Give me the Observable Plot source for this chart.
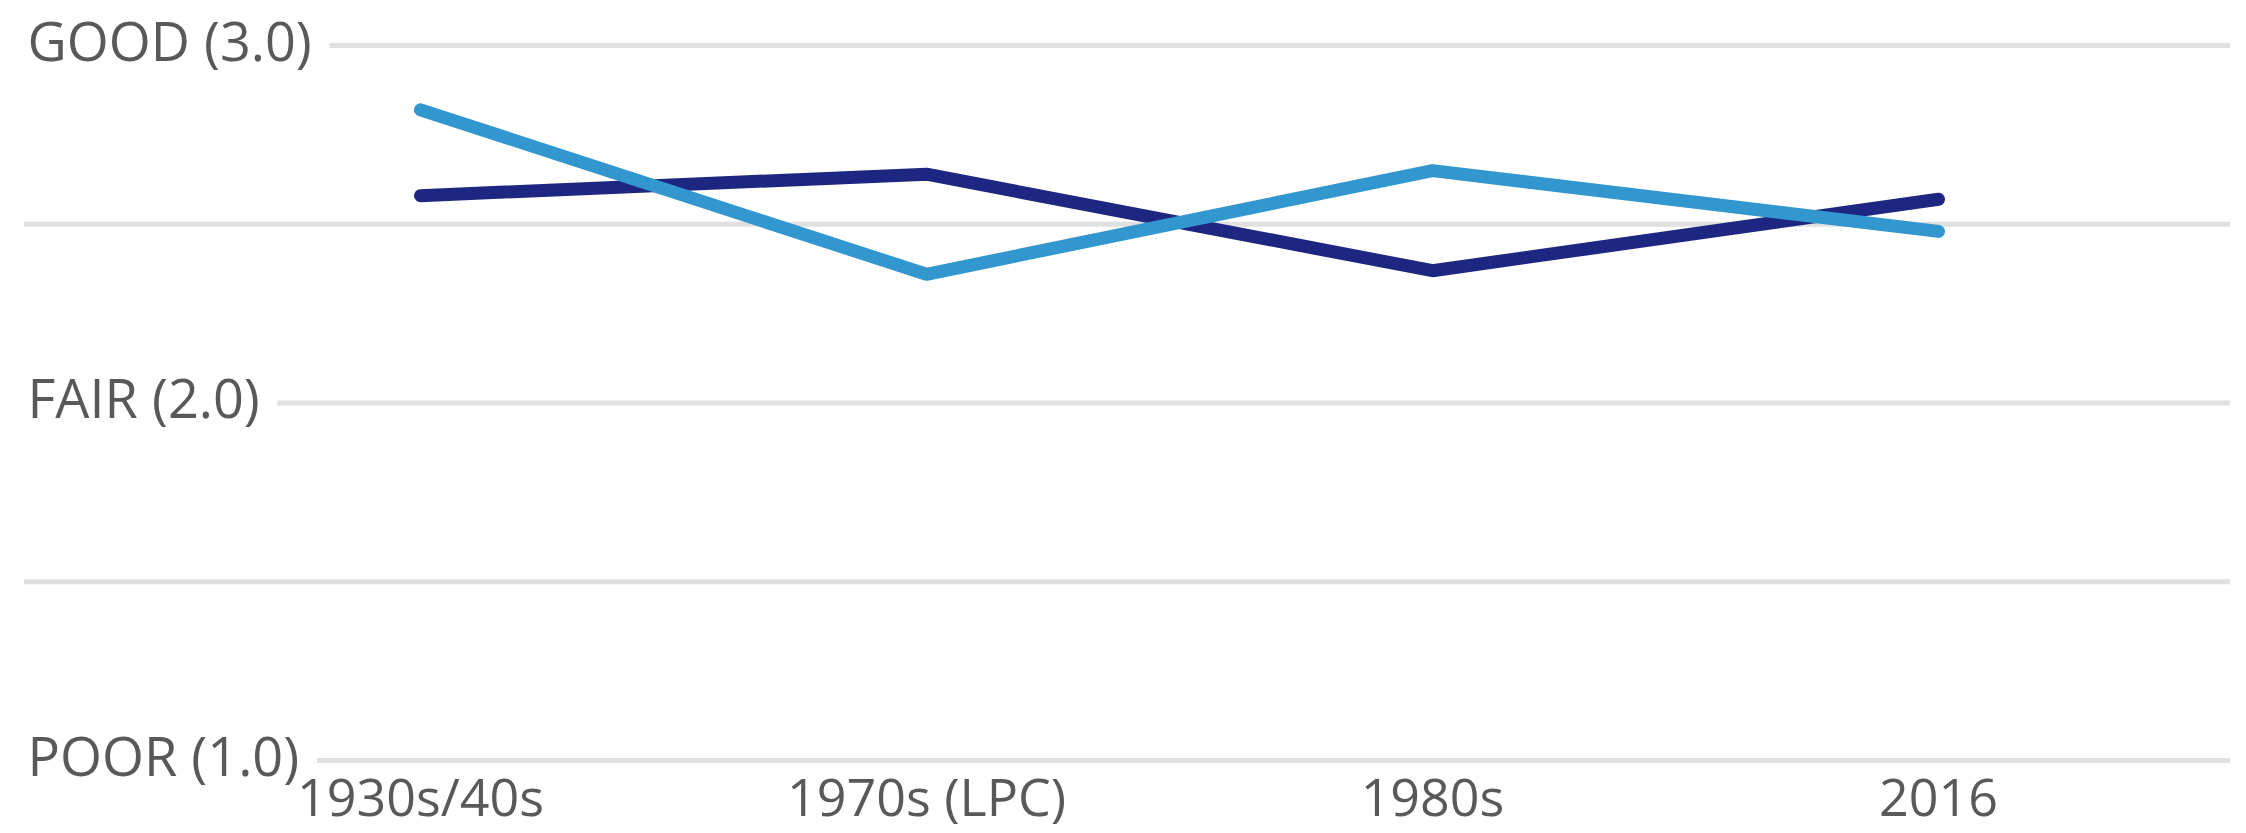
<!DOCTYPE html>
<html>
<head>
<meta charset="utf-8">
<script src="https://cdn.jsdelivr.net/npm/d3@7"></script>
<script src="https://cdn.jsdelivr.net/npm/@observablehq/plot@0.6"></script>
<style>
  html, body { margin: 0; padding: 0; background: #fff; overflow: hidden; }
  #chart svg { display: block; }
</style>
</head>
<body>
<div id="chart"></div>
<script>
// ---- data ----
const categories = ["1930s/40s", "1970s (LPC)", "1980s", "2016"];
const seriesDark = [2.58, 2.64, 2.37, 2.57];
const seriesLight = [2.82, 2.36, 2.65, 2.48];
const gridValues = [1, 1.5, 2, 2.5, 3];
const yLabelValues = [1, 2, 3];
const yLabelTexts = ["POOR (1.0)", "FAIR (2.0)", "GOOD (3.0)"];

// ---- tables built from the arrays ----
const darkRows = categories.map((c, i) => ({period: c, value: seriesDark[i]}));
const lightRows = categories.map((c, i) => ({period: c, value: seriesLight[i]}));
const yLabels = yLabelValues.map((v, i) => ({value: v, label: yLabelTexts[i]}));

const textColor = "#595959";

const chart = Plot.plot({
  width: 2246,
  height: 833,
  marginLeft: 24,
  marginRight: 16,
  marginTop: 45,
  marginBottom: 73,
  style: {fontFamily: "'Open Sans', sans-serif", fontSize: "54px", color: textColor, background: "#fff"},
  x: {type: "point", domain: categories, range: [420, 1938], padding: 0, label: null},
  y: {domain: [1, 3], label: null, axis: null},
  marks: [
    Plot.ruleY(gridValues, {stroke: "#e0e0e0", strokeWidth: 5}),
    Plot.text(yLabels, {
      y: "value", text: "label", frameAnchor: "left", textAnchor: "start",
      dx: 3, dy: -2, fill: textColor, stroke: "#fff", strokeWidth: 40,
      fontSize: 54
    }),
    Plot.line(darkRows, {x: "period", y: "value", stroke: "#1d2681", strokeWidth: 13, strokeLinecap: "round", strokeLinejoin: "miter"}),
    Plot.line(lightRows, {x: "period", y: "value", stroke: "#3397cf", strokeWidth: 13, strokeLinecap: "round", strokeLinejoin: "miter"}),
    Plot.axisX({tickSize: 0, tickPadding: 19, fontSize: 52, fill: textColor, label: null})
  ]
});
document.getElementById("chart").appendChild(chart);
</script>
</body>
</html>
